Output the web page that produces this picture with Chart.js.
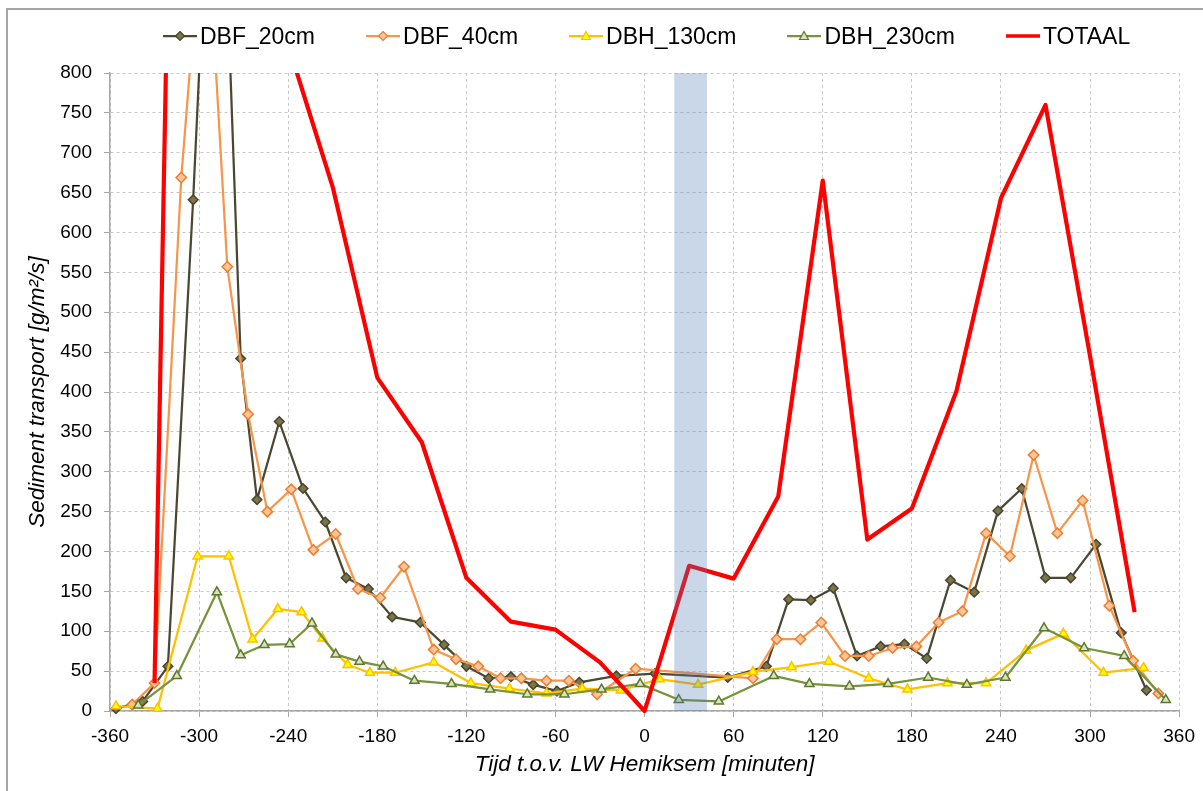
<!DOCTYPE html>
<html>
<head>
<meta charset="utf-8">
<title>Sediment transport</title>
<script src="https://cdn.jsdelivr.net/npm/chart.js@4.4.1/dist/chart.umd.min.js"></script>
<style>
    html, body { margin: 0; padding: 0; background: #fff; overflow: hidden; }
    #wrap { position: relative; width: 1203px; height: 791px; overflow: hidden; }
    #frame { position: absolute; left: 6px; top: 8px; width: 1400px; height: 1000px; border: 2px solid #a6a6a6; }
    #chart { position: absolute; left: 0; top: 0; }
    #legend {
        position: absolute; left: 163px; top: 22px; height: 28px;
        display: flex; align-items: center; white-space: nowrap;
        font-family: "Liberation Sans", Arial, sans-serif; font-size: 23px; color: #000;
    }
    .item { display: flex; align-items: center; margin-right: 51px; }
    .item svg { margin-right: 3px; }
</style>
</head>
<body>
<div id="wrap">
    <div id="frame"></div>
    <canvas id="chart" width="1203" height="791"></canvas>
    <div id="legend"></div>
</div>
<script>
// tijd t.o.v. LW (minuten) en sedimenttransport (g/m2/s) per meetpunt
var dbf20_t = [-356, -338, -321, -304, -288, -272, -261, -246, -230, -215, -201, -186, -170, -151, -135, -120, -105, -90, -75, -59, -44, -19, 7, 56, 82, 97, 112, 127, 143, 159, 175, 190, 206, 222, 238, 254, 270, 287, 304, 321, 338]
var dbf20_v = [3, 12, 56, 641, 1275, 442, 265, 363, 279, 237, 167, 153, 118, 111, 83, 56, 41, 43, 33, 25, 36, 44, 47, 42, 56, 140, 139, 154, 69, 81, 84, 66, 164, 149, 251, 279, 167, 167, 209, 98, 26]

var dbf40_t = [-345, -330, -312, -296, -281, -267, -254, -238, -223, -208, -193, -178, -162, -142, -127, -112, -97, -83, -66, -51, -32, -6, 73, 89, 105, 119, 135, 151, 167, 183, 198, 214, 230, 246, 262, 278, 295, 313, 329, 346]
var dbf40_v = [8, 35, 669, 1040, 557, 372, 250, 278, 202, 222, 153, 142, 181, 77, 65, 56, 41, 41, 38, 38, 21, 53, 41, 90, 90, 111, 69, 69, 79, 81, 111, 125, 223, 194, 321, 223, 264, 132, 63, 22]

var dbh130_t = [-356, -328, -301, -280, -264, -247, -231, -217, -200, -185, -168, -142, -117, -91, -66, -42, -16, 10, 36, 73, 99, 124, 151, 177, 204, 230, 257, 282, 309, 336]
var dbh130_v = [6, 3, 194, 194, 90, 128, 124, 91, 58, 48, 48, 61, 35, 28, 22, 28, 26, 40, 33, 49, 55, 62, 41, 27, 35, 35, 76, 97, 48, 54]

var dbh230_t = [-341, -315, -288, -272, -256, -239, -224, -208, -192, -176, -155, -130, -104, -79, -54, -29, -3, 23, 50, 87, 111, 138, 164, 191, 217, 243, 269, 296, 323, 351]
var dbh230_v = [7, 44, 149, 70, 83, 84, 110, 71, 62, 56, 38, 34, 27, 21, 21, 27, 34, 14, 12, 44, 34, 31, 34, 42, 33, 42, 104, 79, 69, 14]

var totaal_t = [-330, -300, -270, -240, -210, -180, -150, -120, -90, -60, -30, 0, 30, 60, 90, 120, 150, 180, 210, 240, 270, 300, 330]
var totaal_v = [35, 3050, 1900, 835, 657, 418, 337, 167, 112, 102, 61, 0, 182, 166, 269, 665, 215, 254, 401, 643, 760, 445, 124]

// gearceerd tijdvenster (minuten)
var bandStart = 20
var bandEnd = 42

var xTitle = "Tijd t.o.v. LW Hemiksem [minuten]"
var yTitle = "Sediment transport [g/m\u00b2/s]"
var FONT = "'Liberation Sans', Arial, sans-serif"

function pts(ts, vs) {
    return ts.map(function (t, i) { return { x: t, y: vs[i] } })
}

function serie(label, ts, vs, line, fill, edge, shape, radius, order) {
    return {
        label: label,
        data: pts(ts, vs),
        borderColor: line,
        borderWidth: 2.25,
        borderJoinStyle: "round",
        pointStyle: shape,
        pointRadius: radius,
        pointBorderWidth: 1.5,
        pointBackgroundColor: fill,
        pointBorderColor: edge,
        tension: 0,
        order: order,
        clip: { left: 10, right: 10, top: 0, bottom: 10 }
    }
}

var datasets = [
    serie("DBF_20cm", dbf20_t, dbf20_v, "#4b4832", "#7b7548", "#48442e", "rectRot", 4.8, 5),
    serie("DBF_40cm", dbf40_t, dbf40_v, "#f7964a", "#fbc49a", "#ee7d2c", "rectRot", 5.2, 4),
    serie("DBH_130cm", dbh130_t, dbh130_v, "#ffc000", "#ffff00", "#ffc000", "triangle", 5.3, 3),
    serie("DBH_230cm", dbh230_t, dbh230_v, "#77933c", "#d7e4bd", "#5f7830", "triangle", 5.3, 2),
    {
        label: "TOTAAL",
        data: pts(totaal_t, totaal_v),
        borderColor: "#ff0000",
        borderWidth: 4.2,
        borderJoinStyle: "round",
        pointRadius: 0,
        tension: 0,
        order: 1,
        clip: { left: 10, right: 10, top: 0, bottom: 10 }
    }
]

// blauwe band bovenop de lijnen, half doorzichtig
var bandPlugin = {
    id: "lwBand",
    afterDatasetsDraw: function (chart) {
        var ctx = chart.ctx
        var area = chart.chartArea
        var x1 = chart.scales.x.getPixelForValue(bandStart)
        var x2 = chart.scales.x.getPixelForValue(bandEnd)
        ctx.save()
        ctx.fillStyle = "rgba(80,127,185,0.31)"
        ctx.fillRect(x1, area.top, x2 - x1, area.bottom - area.top)
        ctx.restore()
    }
}

var CHART = new Chart(document.getElementById("chart"), {
    type: "line",
    data: { datasets: datasets },
    plugins: [bandPlugin],
    options: {
        responsive: false,
        animation: false,
        devicePixelRatio: 1,
        layout: { padding: { left: 8, right: 22, top: 73, bottom: 0 } },
        plugins: { legend: { display: false }, tooltip: { enabled: false } },
        scales: {
            x: {
                type: "linear",
                min: -360,
                max: 360,
                afterFit: function (scale) { scale.height = 80 },
                ticks: { stepSize: 60, autoSkip: false, maxRotation: 0, padding: 8, color: "#000", font: { family: FONT, size: 19 } },
                grid: { color: "#c8c8c8", tickColor: "#a6a6a6", tickLength: 6, tickBorderDash: [] },
                border: { color: "#a6a6a6", width: 1.5, dash: [3, 3] },
                title: { display: true, text: xTitle, color: "#000", font: { family: FONT, size: 22.5, style: "italic" }, padding: { top: 0, bottom: 12.5 } }
            },
            y: {
                min: 0,
                max: 800,
                afterFit: function (scale) { scale.width = 102 },
                ticks: { stepSize: 50, autoSkip: false, padding: 12, color: "#000", font: { family: FONT, size: 19 } },
                grid: { color: "#c8c8c8", tickColor: "#a6a6a6", tickLength: 6, tickBorderDash: [] },
                border: { color: "#a6a6a6", width: 1.5, dash: [3, 3] },
                title: { display: true, text: yTitle, color: "#000", font: { family: FONT, size: 22.5, style: "italic" }, padding: { top: 16, bottom: 0 } }
            }
        }
    }
})

// legenda: lijntje met marker + naam
function legendSymbol(ds) {
    var s = '<svg width="34" height="16" viewBox="0 0 34 16">'
    s += '<line x1="0" y1="8" x2="34" y2="8" stroke="' + ds.borderColor + '" stroke-width="' + (ds.pointRadius ? 2.25 : 3.5) + '"/>'
    if (ds.pointStyle === "rectRot") {
        s += '<polygon points="17,3.5 21.5,8 17,12.5 12.5,8" fill="' + ds.pointBackgroundColor + '" stroke="' + ds.pointBorderColor + '" stroke-width="1.2"/>'
    } else if (ds.pointStyle === "triangle") {
        s += '<polygon points="17,3.5 21.5,11.5 12.5,11.5" fill="' + ds.pointBackgroundColor + '" stroke="' + ds.pointBorderColor + '" stroke-width="1.2"/>'
    }
    return s + "</svg>"
}

var html = datasets.map(function (ds) {
    return '<div class="item">' + legendSymbol(ds) + "<span>" + ds.label + "</span></div>"
})
document.getElementById("legend").innerHTML = html.join("")
</script>
</body>
</html>
